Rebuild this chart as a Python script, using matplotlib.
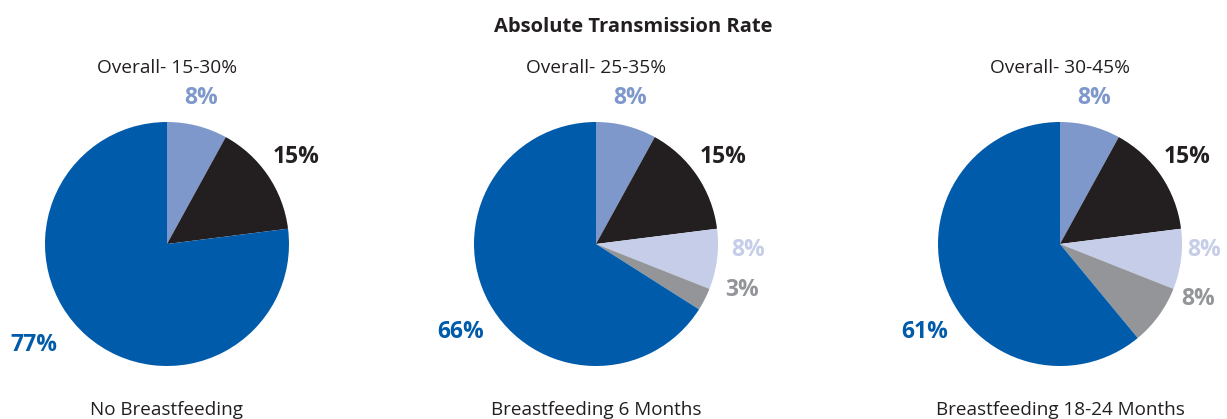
import matplotlib
matplotlib.use("Agg")
import matplotlib.pyplot as plt

plt.rcParams["font.family"] = ["Open Sans", "DejaVu Sans"]

# data
titles_top = ["Overall- 15-30%", "Overall- 25-35%", "Overall- 30-45%"]
titles_bottom = ["No Breastfeeding", "Breastfeeding 6 Months", "Breastfeeding 18-24 Months"]
no_bf = [8, 15, 77]
bf_6m = [8, 15, 8, 3, 66]
bf_18m = [8, 15, 8, 8, 61]
colors_3 = ["#7F98CB", "#231F20", "#005BAA"]
colors_5 = ["#7F98CB", "#231F20", "#C5CDE8", "#939598", "#005BAA"]

# label offsets in units of pie radius (layout)
off_3 = [(0.28, 1.20), (1.06, 0.71), (-1.09, -0.83)]
off_5m = [(0.28, 1.20), (1.04, 0.71), (1.25, -0.05), (1.20, -0.38), (-1.11, -0.72)]
off_5r = [(0.28, 1.20), (1.04, 0.71), (1.18, -0.05), (1.13, -0.45), (-1.11, -0.72)]

W, H = 1227, 419
fig = plt.figure(figsize=(W / 100, H / 100), dpi=100)
ax = fig.add_axes([0, 0, 1, 1])

R = 122
centers = [(167, H - 244), (596, H - 244), (1060, H - 244)]
sets = [(no_bf, colors_3, off_3), (bf_6m, colors_5, off_5m), (bf_18m, colors_5, off_5r)]

for (cx, cy), (vals, cols, offs), top, bot in zip(centers, sets, titles_top, titles_bottom):
    ax.pie(vals, colors=cols, startangle=90, counterclock=False, center=(cx, cy),
           radius=R, wedgeprops=dict(linewidth=0), frame=True)
    for v, c, (dx, dy) in zip(vals, cols, offs):
        ax.text(cx + dx * R, cy + dy * R, f"{v}%", ha="center", va="center",
                color=c, fontsize=16.5, fontweight="bold")
    ax.text(cx, H - 68, top, ha="center", va="center", fontsize=13.8, color="#231F20")
    ax.text(cx, H - 410, bot, ha="center", va="center", fontsize=13.6, color="#231F20")

ax.set_xlim(0, W); ax.set_ylim(0, H); ax.set_aspect("auto"); ax.axis("off")
ax.text(633, H - 27, "Absolute Transmission Rate", ha="center", va="center",
        fontsize=14.5, fontweight="bold", color="#231F20")

fig.savefig("out.png", dpi=100, facecolor="white")
